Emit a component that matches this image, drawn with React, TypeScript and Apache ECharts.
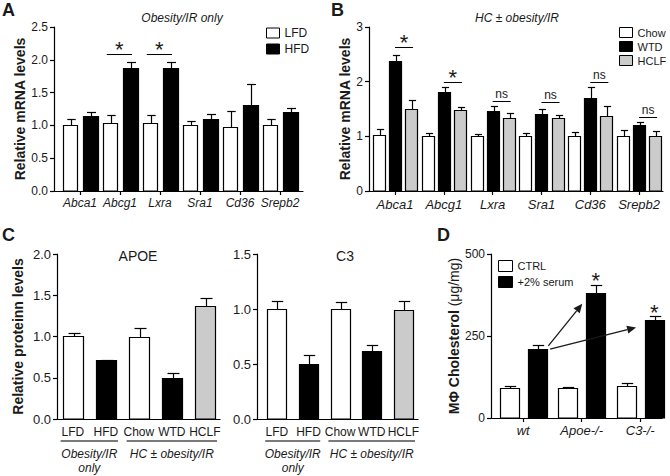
import React, { useEffect, useRef } from "react";
import * as echarts from "echarts";

// ---------- DATA ----------
const genes = ["Abca1", "Abcg1", "Lxra", "Sra1", "Cd36", "Srepb2"];
// Panel A (Obesity/IR only)
const lfdMean = [1.01, 1.03, 1.03, 1.0, 0.98, 1.01];
const lfdTop = [1.09, 1.16, 1.16, 1.06, 1.22, 1.1];
const hfdMean = [1.14, 1.87, 1.87, 1.09, 1.31, 1.2];
const hfdTop = [1.21, 1.97, 1.97, 1.17, 1.63, 1.27];
const sigA: [number, number, string][] = [
  [1, 2.09, "*"],
  [2, 2.09, "*"],
];
// Panel B (HC ± obesity/IR)
const chowMean = [1.03, 1.01, 1.0, 1.0, 1.0, 1.01];
const chowTop = [1.14, 1.06, 1.04, 1.06, 1.08, 1.12];
const wtdMean = [2.38, 1.82, 1.46, 1.4, 1.71, 1.2];
const wtdTop = [2.49, 1.9, 1.55, 1.5, 1.9, 1.26];
const hclfMean = [1.5, 1.48, 1.33, 1.33, 1.37, 1.0];
const hclfTop = [1.66, 1.54, 1.42, 1.39, 1.56, 1.1];
const sigB: [number, number, string][] = [
  [0, 2.63, "*"],
  [1, 1.99, "*"],
  [2, 1.65, "ns"],
  [3, 1.63, "ns"],
  [4, 1.99, "ns"],
  [5, 1.35, "ns"],
];
// Panel C (protein)
const dietsC = ["LFD", "HFD", "Chow", "WTD", "HCLF"];
const apoeMean = [1.01, 0.71, 1.0, 0.5, 1.37];
const apoeTop = [1.04, 0.72, 1.1, 0.56, 1.47];
const c3Mean = [1.0, 0.5, 1.0, 0.615, 0.99];
const c3Top = [1.07, 0.585, 1.06, 0.676, 1.07];
const groupSpansC: [number, number][] = [
  [0, 1],
  [2, 4],
];
const groupNamesC = ["Obesity/IR\nonly", "HC ± obesity/IR"];
// Panel D (macrophage cholesterol)
const genotypes = ["wt", "Apoe-/-", "C3-/-"];
const ctrlMean = [91, 90, 98];
const ctrlTop = [99, 96, 108];
const serumMean = [210, 382, 299];
const serumTop = [222, 406, 311];
const sigD: [number, number, string][] = [
  [1, 405, "*"],
  [2, 308, "*"],
];
const arrowsD: [number, number, number, number][] = [
  [0.43, 220, 1.01, 348],
  [0.46, 210, 1.93, 276],
];

// ---------- STYLE ----------
const FONT = "'Liberation Sans', Arial, Helvetica, sans-serif";
const INK = "#1a1a1a";
const WHITE = "#ffffff";
const BLACK = "#000000";
const GREY = "#cbcbcb";
const fillsC = [WHITE, BLACK, WHITE, BLACK, GREY];

function bars(
  name: string,
  idx: number,
  means: number[],
  tops: number[],
  offset: number,
  width: number,
  fills: string[]
) {
  return {
    type: "custom",
    name,
    xAxisIndex: idx,
    yAxisIndex: idx,
    itemStyle: { color: fills[0], borderColor: BLACK },
    data: means.map((m, i) => [i, m, tops[i]]),
    renderItem: (params: any, api: any) => {
      const i = api.value(0);
      const x = i + offset;
      const m = api.value(1);
      const t = api.value(2);
      const a = api.coord([x - width / 2, m]);
      const b = api.coord([x + width / 2, 0]);
      const c = api.coord([x, t]);
      const L = Math.round(a[0]) + 0.5;
      const R = Math.round(b[0]) + 0.5;
      const T = Math.round(a[1]) + 0.5;
      const B = Math.round(b[1]);
      const cx = Math.round((L + R) / 2) + 0.5;
      const ct = Math.round(c[1]) + 0.5;
      const cap = (R - L) * 0.3;
      const fill = fills[params.dataIndex] ?? fills[0];
      return {
        type: "group",
        children: [
          {
            type: "line",
            shape: { x1: cx, y1: T, x2: cx, y2: ct },
            style: { stroke: BLACK, lineWidth: 1.2 },
          },
          {
            type: "line",
            shape: { x1: cx - cap, y1: ct, x2: cx + cap, y2: ct },
            style: { stroke: BLACK, lineWidth: 1.2 },
          },
          {
            type: "rect",
            shape: { x: L, y: T, width: R - L, height: B - T },
            style: { fill, stroke: BLACK, lineWidth: 1.2 },
          },
        ],
      };
    },
  };
}

function sig(
  idx: number,
  items: [number, number, string][],
  x0: number,
  x1: number,
  drawLine: boolean
) {
  return {
    type: "custom",
    name: "sig" + idx,
    xAxisIndex: idx,
    yAxisIndex: idx,
    silent: true,
    z: 5,
    data: items.map((s) => [s[0], s[1]]),
    renderItem: (params: any, api: any) => {
      const s = items[params.dataIndex];
      const cat = api.value(0);
      const lv = api.value(1);
      const p0 = api.coord([cat + x0, lv]);
      const p1 = api.coord([cat + x1, lv]);
      const star = s[2] === "*";
      const y = Math.round(p0[1]) + 0.5;
      const children: any[] = [];
      if (drawLine) {
        children.push({
          type: "line",
          shape: { x1: p0[0], y1: y, x2: p1[0], y2: y },
          style: { stroke: BLACK, lineWidth: 1 },
        });
      }
      children.push({
        type: "text",
        x: (p0[0] + p1[0]) / 2,
        y: y + (star ? -5 : -8),
        style: {
          text: s[2],
          fill: INK,
          font: star ? `22px ${FONT}` : `12px ${FONT}`,
          align: "center",
          verticalAlign: "middle",
        },
      });
      return { type: "group", children };
    },
  };
}

function brackets(idx: number) {
  return {
    type: "custom",
    name: "groups" + idx,
    xAxisIndex: idx,
    yAxisIndex: idx,
    silent: true,
    data: groupSpansC.map((g) => [g[0], g[1]]),
    renderItem: (params: any, api: any) => {
      const s = api.value(0);
      const e = api.value(1);
      const pad = 0.37;
      const p0 = api.coord([s - pad, 0]);
      const p1 = api.coord([e + pad, 0]);
      const y = p0[1] + 22;
      return {
        type: "group",
        children: [
          {
            type: "line",
            shape: { x1: p0[0], y1: y, x2: p1[0], y2: y },
            style: { stroke: "#7a7a7a", lineWidth: 2 },
          },
          {
            type: "text",
            x: (p0[0] + p1[0]) / 2,
            y: y + 6,
            style: {
              text: groupNamesC[params.dataIndex],
              fill: INK,
              font: `italic 12px ${FONT}`,
              lineHeight: 14,
              align: "center",
              verticalAlign: "top",
            },
          },
        ],
      };
    },
  };
}

function arrows(idx: number) {
  return {
    type: "custom",
    name: "arrows",
    xAxisIndex: idx,
    yAxisIndex: idx,
    silent: true,
    data: arrowsD.map((a) => [a[0], a[1], a[2], a[3]]),
    renderItem: (params: any, api: any) => {
      const a = api.coord([api.value(0), api.value(1)]);
      const b = api.coord([api.value(2), api.value(3)]);
      const ang = Math.atan2(b[1] - a[1], b[0] - a[0]);
      const len = 9;
      const wid = 4;
      const bx = b[0] - len * Math.cos(ang);
      const by = b[1] - len * Math.sin(ang);
      const nx = -Math.sin(ang) * wid;
      const ny = Math.cos(ang) * wid;
      return {
        type: "group",
        children: [
          {
            type: "line",
            shape: { x1: a[0], y1: a[1], x2: bx, y2: by },
            style: { stroke: INK, lineWidth: 1.3 },
          },
          {
            type: "polygon",
            shape: {
              points: [
                [b[0], b[1]],
                [bx + nx, by + ny],
                [bx - nx, by - ny],
              ],
            },
            style: { fill: INK },
          },
        ],
      };
    },
  };
}

const axisLine = { show: true, onZero: false, lineStyle: { color: BLACK, width: 1.2 } };

function xAxisCfg(
  grid: number,
  min: number,
  max: number,
  labels: string[],
  italic: boolean,
  fontSize: number,
  ticks: boolean,
  margin: number
) {
  const vals = labels.map((_, i) => i);
  return {
    gridIndex: grid,
    type: "value",
    min,
    max,
    axisLine,
    splitLine: { show: false },
    axisTick: { show: ticks, customValues: vals, length: 4, lineStyle: { color: BLACK, width: 1.2 } },
    axisLabel: {
      customValues: vals,
      formatter: (v: number) => labels[Math.round(v)] ?? "",
      fontStyle: italic ? "italic" : "normal",
      fontSize,
      fontFamily: FONT,
      color: INK,
      margin,
    },
  };
}

function yAxisCfg(
  grid: number,
  max: number,
  interval: number,
  decimals: number,
  fontSize: number,
  name: string,
  nameGap: number,
  rich?: any
) {
  return {
    gridIndex: grid,
    type: "value",
    min: 0,
    max,
    interval,
    axisLine,
    splitLine: { show: false },
    axisTick: { show: true, length: 4, lineStyle: { color: BLACK, width: 1.2 } },
    axisLabel: {
      formatter: (v: number) => v.toFixed(decimals),
      fontSize,
      fontFamily: FONT,
      color: INK,
      margin: 6,
    },
    name,
    nameLocation: "middle",
    nameGap,
    nameTextStyle: {
      fontSize: 14,
      fontWeight: "bold",
      fontFamily: FONT,
      color: INK,
      rich,
    },
  };
}

function legendCfg(
  items: { name: string; color: string }[],
  left: number,
  top: number,
  fontSize: number,
  itemGap: number,
  w: number,
  h: number
) {
  return {
    orient: "vertical",
    left,
    top,
    padding: 0,
    itemGap,
    itemWidth: w,
    itemHeight: h,
    selectedMode: false,
    icon: "rect",
    textStyle: { fontSize, fontFamily: FONT, color: INK },
    data: items.map((it) => ({
      name: it.name,
      icon: "rect",
      itemStyle: { color: it.color, borderColor: BLACK, borderWidth: 1 },
    })),
  };
}

function txt(x: number, y: number, text: string, font: string, align = "center") {
  return {
    type: "text",
    x,
    y,
    style: { text, font, fill: INK, align, verticalAlign: "middle" },
  };
}

const option: any = {
  animation: false,
  backgroundColor: "#ffffff",
  grid: [
    { left: 54, top: 27, width: 249, height: 164 },
    { left: 369, top: 27, width: 294, height: 164 },
    { left: 57, top: 254, width: 163, height: 165 },
    { left: 257, top: 254, width: 161, height: 165 },
    { left: 491, top: 254, width: 171, height: 164 },
  ],
  xAxis: [
    xAxisCfg(0, -0.65, 5.575, genes, true, 12, true, 6),
    xAxisCfg(1, -0.533, 5.49, genes, true, 13, true, 7),
    xAxisCfg(2, -0.48, 4.46, dietsC, false, 12, false, 7),
    xAxisCfg(3, -0.63, 4.465, dietsC, false, 12, false, 7),
    xAxisCfg(4, -0.55, 2.373, genotypes, true, 13, true, 6),
  ],
  yAxis: [
    yAxisCfg(0, 2.5, 0.5, 1, 12, "Relative mRNA levels", 21),
    yAxisCfg(1, 3, 1, 0, 12, "Relative mRNA levels", 16),
    yAxisCfg(2, 2, 0.5, 1, 13, "Relative proteinn levels", 32),
    yAxisCfg(3, 1.5, 0.5, 1, 13, "", 30),
    yAxisCfg(4, 500, 250, 0, 12, "{b|MΦ Cholesterol }{n|(μg/mg)}", 30, {
      b: { fontSize: 14, fontWeight: "bold", fontFamily: FONT, color: INK },
      n: { fontSize: 14, fontWeight: "normal", fontFamily: FONT, color: INK },
    }),
  ],
  legend: [
    legendCfg(
      [
        { name: "LFD", color: WHITE },
        { name: "HFD", color: BLACK },
      ],
      266,
      27,
      12,
      4,
      13,
      10
    ),
    legendCfg(
      [
        { name: "Chow", color: WHITE },
        { name: "WTD", color: BLACK },
        { name: "HCLF", color: GREY },
      ],
      619,
      27,
      11,
      3,
      13,
      10
    ),
    legendCfg(
      [
        { name: "CTRL", color: WHITE },
        { name: "+2% serum", color: BLACK },
      ],
      498,
      260,
      11,
      4,
      14,
      11
    ),
  ],
  graphic: [
    txt(2, 10, "A", `bold 18px ${FONT}`, "left"),
    txt(331, 10, "B", `bold 18px ${FONT}`, "left"),
    txt(2, 235, "C", `bold 18px ${FONT}`, "left"),
    txt(437, 235, "D", `bold 18px ${FONT}`, "left"),
    txt(182, 18, "Obesity/IR only", `italic 12px ${FONT}`),
    txt(517, 18, "HC ± obesity/IR", `italic 12px ${FONT}`),
    txt(138, 256, "APOE", `14px ${FONT}`),
    txt(345, 256, "C3", `14px ${FONT}`),
  ],
  series: [
    bars("LFD", 0, lfdMean, lfdTop, -0.25, 0.37, [WHITE]),
    bars("HFD", 0, hfdMean, hfdTop, 0.26, 0.37, [BLACK]),
    sig(0, sigA, -0.33, 0.3, true),
    bars("Chow", 1, chowMean, chowTop, -0.33, 0.245, [WHITE]),
    bars("WTD", 1, wtdMean, wtdTop, 0, 0.245, [BLACK]),
    bars("HCLF", 1, hclfMean, hclfTop, 0.33, 0.245, [GREY]),
    sig(1, sigB, 0, 0.37, true),
    bars("APOE", 2, apoeMean, apoeTop, 0, 0.6, fillsC),
    brackets(2),
    bars("C3", 3, c3Mean, c3Top, 0, 0.6, fillsC),
    brackets(3),
    bars("CTRL", 4, ctrlMean, ctrlTop, -0.24, 0.325, [WHITE]),
    bars("+2% serum", 4, serumMean, serumTop, 0.24, 0.325, [BLACK]),
    sig(4, sigD, 0.24, 0.24, false),
    arrows(4),
  ],
};

export default function App() {
  const ref = useRef<HTMLDivElement>(null);
  useEffect(() => {
    document.body.style.margin = "0";
    const chart = echarts.init(ref.current!, null, { renderer: "svg" });
    chart.setOption(option);
    return () => chart.dispose();
  }, []);
  return <div ref={ref} style={{ width: 670, height: 476 }} />;
}
